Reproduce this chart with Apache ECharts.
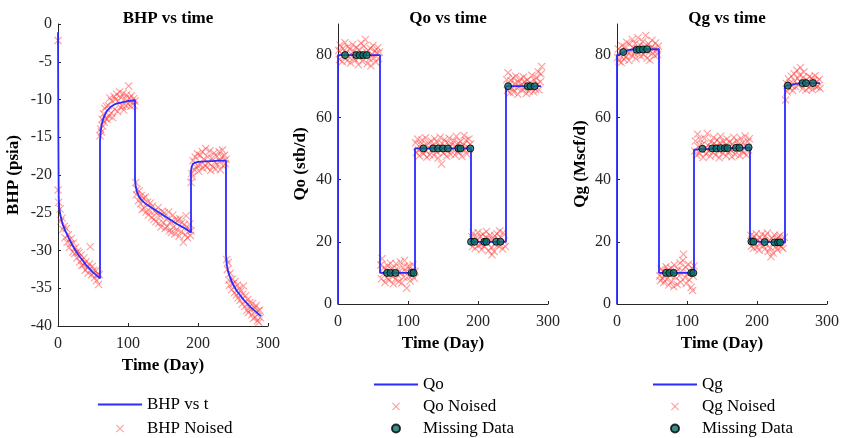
<!DOCTYPE html>
<html>
<head>
<meta charset="utf-8">
<script src="https://cdn.jsdelivr.net/npm/echarts@6/dist/echarts.min.js"></script>
<style>
  html, body { margin: 0; padding: 0; background: #fff; }
  #main { width: 842px; height: 438px; }
</style>
</head>
<body>
<div id="main"></div>
<script>
let myChart = echarts.init(document.getElementById('main'));

// BHP model curve
let bhpT = [0, 0.5, 1, 2, 4, 7, 10, 15, 20, 25, 30, 35, 40, 45, 50, 55, 60,
    60, 61, 62, 64, 67, 70, 75, 80, 85, 90, 95, 100, 105, 110,
    110, 111, 113, 116, 120, 125, 130, 140, 150, 160, 170, 180, 190,
    190, 191, 193, 196, 200, 210, 220, 230, 240,
    240, 241, 243, 246, 250, 255, 260, 265, 270, 275, 280, 285, 290];
let bhpV = [-1.1, -15, -23, -24.5, -25.6, -26.6, -27.3, -28.3, -29.2, -30.0, -30.7, -31.3, -31.9, -32.4, -32.9, -33.3, -33.7,
    -15.5, -14.2, -13.5, -12.7, -12.0, -11.5, -11.0, -10.7, -10.5, -10.4, -10.3, -10.2, -10.15, -10.1,
    -20.5, -21.5, -22.3, -22.9, -23.4, -23.8, -24.1, -24.7, -25.3, -25.9, -26.5, -27.0, -27.6,
    -19.5, -18.9, -18.5, -18.35, -18.25, -18.2, -18.15, -18.1, -18.1,
    -30.5, -31.8, -32.8, -33.6, -34.5, -35.3, -35.9, -36.5, -37.0, -37.5, -37.9, -38.3, -38.7];

// BHP noised samples [t, value]
let bhpNoised = [
    [0, -2.2], [0, -22], [1, -23.6], [3, -24.5], [4, -26.1], [6, -25.7], [7, -27.2], [9, -26.8], [10, -28.3], [12, -27.1],
    [13, -28.9], [15, -27.9], [16, -29.6], [18, -29.1], [19, -28.4], [21, -30.2], [22, -29.0], [24, -30.4], [25, -29.6], [27, -31.0],
    [28, -30.1], [30, -30.3], [31, -31.5], [33, -30.6], [34, -32.0], [36, -31.9], [37, -31.0], [39, -32.6], [40, -31.5], [42, -32.3],
    [43, -33.0], [45, -31.8], [46, -29.5], [48, -33.2], [49, -32.1], [51, -32.6], [52, -33.6], [54, -32.7], [55, -34.0], [57, -33.1],
    [58, -34.5], [59, -33.2],
    [60, -14.8], [61, -13.9], [62, -14.3], [63, -12.6], [64, -13.5], [65, -11.9], [66, -13.0], [67, -11.2], [68, -12.5], [69, -10.9],
    [70, -12.6], [72, -10.8], [73, -12.2], [74, -9.8], [76, -11.8], [77, -10.2], [78, -12.4], [80, -9.6], [81, -11.3], [82, -10.0],
    [84, -9.3], [85, -11.6], [86, -10.2], [88, -9.0], [89, -11.0], [90, -9.7], [92, -10.9], [93, -9.2], [94, -11.4], [96, -9.9],
    [97, -10.8], [98, -9.4], [100, -10.6], [101, -8.2], [102, -9.8], [104, -10.9], [105, -9.5], [106, -10.4], [108, -9.9], [109, -10.8],
    [110, -10.2],
    [111, -21.0], [112, -22.6], [113, -21.9], [115, -23.4], [116, -22.1], [118, -23.8], [119, -22.7], [120, -24.6], [122, -23.1], [123, -24.4],
    [125, -22.9], [126, -24.9], [128, -23.6], [129, -25.3], [131, -24.8], [132, -23.7], [134, -25.6], [135, -24.1], [137, -25.9], [138, -24.8],
    [140, -26.2], [141, -25.1], [143, -24.3], [144, -26.4], [146, -25.4], [147, -26.9], [149, -24.8], [150, -26.3], [152, -25.0], [153, -27.1],
    [155, -25.9], [156, -26.8], [158, -24.9], [159, -27.4], [161, -26.2], [162, -27.6], [164, -25.3], [165, -26.9], [167, -27.8], [168, -25.9],
    [170, -27.2], [171, -26.0], [173, -28.1], [174, -25.8], [176, -27.5], [177, -26.3], [179, -28.9], [180, -26.6], [182, -27.9], [183, -25.4],
    [185, -28.3], [186, -27.0], [188, -26.5], [189, -28.0], [190, -27.4],
    [190, -21.0], [191, -19.8], [192, -20.2], [193, -18.1], [195, -19.3], [196, -17.6], [197, -18.9], [199, -17.2], [200, -18.8], [201, -19.5],
    [203, -17.4], [204, -18.6], [206, -16.9], [207, -19.1], [208, -17.9], [210, -18.7], [211, -16.5], [213, -19.0], [214, -17.6], [215, -18.4],
    [217, -16.8], [218, -19.4], [220, -17.8], [221, -18.9], [223, -17.1], [224, -18.3], [225, -19.2], [227, -17.5], [228, -18.6], [230, -16.9],
    [231, -18.1], [232, -19.3], [234, -17.6], [235, -16.7], [236, -18.8], [238, -17.4], [239, -18.5], [240, -17.9],
    [241, -31.2], [242, -32.5], [243, -31.6], [244, -33.9], [245, -34.6], [246, -33.0], [248, -35.2], [249, -33.8], [250, -34.4], [252, -35.6],
    [253, -34.1], [255, -35.9], [256, -34.6], [257, -36.3], [259, -35.0], [260, -36.6], [261, -35.4], [263, -37.1], [264, -35.8], [265, -34.7],
    [267, -37.4], [268, -36.0], [270, -37.9], [271, -36.5], [272, -38.2], [274, -36.9], [275, -37.8], [277, -38.5], [278, -37.0], [279, -39.0],
    [281, -37.6], [282, -38.8], [283, -37.3], [285, -39.3], [286, -38.0], [287, -39.5], [288, -37.9], [289, -38.9]
];

// Qo model
let qoT = [0, 0, 60, 60, 110, 110, 190, 190, 240, 240, 290];
let qoV = [0, 80, 80, 10, 10, 50, 50, 20, 20, 70, 70];

let qoNoised = [
    [1, 81.5], [2, 78.6], [3, 83.2], [5, 80.4], [6, 77.9], [7, 82.1], [9, 79.3], [10, 84.0], [11, 80.8], [13, 78.2],
    [14, 82.7], [15, 79.6], [17, 81.9], [18, 77.5], [19, 80.3], [21, 83.4], [22, 79.0], [23, 81.2], [25, 78.4], [26, 82.5],
    [27, 80.1], [29, 76.9], [30, 81.7], [31, 79.4], [33, 83.8], [34, 80.6], [35, 78.0], [37, 82.9], [38, 79.8], [39, 85.0],
    [41, 80.9], [42, 77.3], [43, 81.5], [45, 78.8], [46, 82.2], [47, 76.6], [49, 80.2], [50, 83.1], [51, 79.1], [53, 81.4],
    [54, 77.8], [55, 80.7], [57, 82.4], [58, 78.9], [59, 81.0],
    [61, 12.5], [62, 8.1], [63, 14.6], [65, 9.7], [66, 11.8], [67, 6.9], [69, 10.9], [70, 8.4], [71, 12.3], [73, 7.6],
    [74, 10.2], [75, 13.1], [77, 9.1], [78, 11.5], [79, 6.5], [81, 10.6], [82, 8.0], [83, 12.9], [85, 9.4], [86, 11.0],
    [87, 7.2], [89, 13.5], [90, 9.9], [91, 6.8], [93, 11.7], [94, 8.6], [95, 14.0], [97, 10.3], [98, 5.1], [99, 11.9],
    [101, 8.9], [102, 12.1], [103, 7.4], [105, 10.8], [106, 9.2], [107, 12.6], [109, 8.3], [110, 10.5],
    [111, 51.8], [112, 48.7], [114, 53.0], [115, 49.5], [116, 47.6], [118, 51.2], [119, 49.9], [120, 52.7], [122, 48.3], [123, 50.9],
    [125, 53.4], [126, 49.1], [127, 47.2], [129, 51.6], [130, 50.2], [131, 48.0], [133, 52.4], [134, 49.6], [135, 51.0], [137, 47.8],
    [138, 53.1], [139, 50.4], [141, 48.9], [142, 52.0], [143, 46.9], [145, 50.7], [146, 53.6], [147, 49.3], [148, 45.0], [149, 51.5],
    [151, 48.5], [152, 52.8], [153, 50.0], [155, 47.5], [156, 51.9], [157, 49.2], [159, 53.3], [160, 50.6], [161, 48.1], [163, 51.3],
    [164, 49.7], [165, 52.5], [167, 47.9], [168, 50.8], [169, 53.9], [171, 49.0], [172, 51.7], [173, 48.6], [175, 52.2], [176, 50.3],
    [177, 47.4], [179, 51.1], [180, 54.2], [181, 49.4], [183, 52.6], [184, 48.2], [185, 50.5], [187, 53.0], [188, 49.8], [189, 51.4],
    [191, 21.6], [192, 18.4], [193, 22.8], [195, 19.5], [196, 17.9], [197, 21.2], [199, 20.4], [200, 23.0], [201, 18.9], [203, 21.8],
    [204, 19.1], [205, 17.5], [207, 22.4], [208, 20.0], [209, 18.6], [211, 21.4], [212, 23.3], [213, 19.6], [215, 17.1], [216, 20.9],
    [217, 22.1], [219, 18.2], [220, 15.8], [221, 20.6], [223, 16.9], [224, 21.9], [225, 19.3], [227, 22.6], [228, 18.8], [229, 20.8],
    [231, 23.5], [232, 19.0], [233, 21.3], [235, 17.7], [236, 22.9], [237, 20.2], [239, 18.5],
    [241, 72.1], [242, 68.6], [243, 74.3], [245, 70.5], [246, 67.9], [247, 71.8], [249, 69.2], [250, 72.7], [251, 68.1], [253, 70.9],
    [254, 73.2], [255, 69.6], [257, 67.4], [258, 71.3], [259, 70.0], [261, 72.4], [262, 68.8], [263, 70.6], [265, 73.0], [266, 69.1],
    [267, 71.5], [269, 67.7], [270, 70.2], [271, 72.0], [273, 68.4], [274, 71.1], [275, 69.5], [277, 73.5], [278, 70.4], [279, 68.2],
    [281, 71.9], [282, 69.0], [283, 72.8], [285, 70.7], [286, 74.6], [287, 68.9], [289, 71.4], [290, 73.9], [291, 76.3]
];

let qoMissing = [
    [10, 80], [26, 80], [31, 80], [36, 80], [41, 80],
    [70, 10], [75, 10], [82, 10], [105, 10], [108, 10],
    [122, 50], [136, 50], [143, 50], [150, 50], [157, 50], [172, 50], [175, 50], [189, 50],
    [190, 20], [195, 20], [209, 20], [212, 20], [226, 20], [232, 20],
    [243, 70], [271, 70], [275, 70], [281, 70]
];

// Qg model
let qgT = [0, 0, 5, 10, 15, 20, 60, 60, 110, 110, 150, 190, 190, 240, 240, 250, 262, 290];
let qgV = [0, 80, 80.4, 81, 81.5, 81.8, 81.9, 10, 10, 49.6, 50, 50.3, 20.1, 19.8, 70, 70.5, 71, 71];

let qgNoised = [
    [1, 79.2], [2, 82.0], [3, 78.1], [5, 81.3], [6, 77.6], [7, 83.0], [9, 80.0], [10, 78.7], [11, 82.6], [13, 79.5],
    [14, 84.1], [15, 80.9], [17, 78.3], [18, 83.5], [19, 81.2], [21, 79.9], [22, 85.0], [23, 82.3], [25, 80.4], [26, 83.7],
    [27, 78.9], [29, 82.0], [30, 85.6], [31, 80.8], [33, 83.2], [34, 79.6], [35, 81.9], [37, 84.4], [38, 80.1], [39, 82.8],
    [41, 86.3], [42, 81.4], [43, 79.0], [45, 83.6], [46, 81.0], [47, 78.4], [49, 82.5], [50, 84.8], [51, 80.6], [53, 82.1],
    [54, 79.8], [55, 83.9], [57, 81.6], [58, 80.2], [59, 82.9],
    [61, 9.0], [62, 7.5], [63, 11.2], [65, 8.3], [66, 10.5], [67, 6.9], [69, 9.6], [70, 12.0], [71, 8.0], [73, 10.9],
    [74, 6.1], [75, 9.3], [77, 11.6], [78, 7.2], [79, 10.1], [81, 5.6], [82, 12.5], [83, 8.8], [85, 10.4], [86, 6.3],
    [87, 11.1], [89, 9.0], [90, 13.2], [91, 7.0], [93, 10.7], [94, 14.0], [95, 16.0], [97, 8.5], [98, 11.9], [99, 6.6],
    [101, 9.8], [102, 12.8], [103, 7.8], [105, 10.3], [106, 5.4], [107, 11.4], [108, 4.3], [109, 8.9], [110, 12.2],
    [111, 49.2], [112, 52.4], [114, 47.8], [115, 54.6], [116, 50.6], [118, 48.5], [119, 52.9], [120, 49.7], [122, 51.3], [123, 47.1],
    [125, 53.2], [126, 50.1], [127, 48.3], [129, 54.8], [130, 51.0], [131, 49.0], [133, 47.5], [134, 52.1], [135, 50.4], [137, 48.8],
    [138, 53.5], [139, 51.6], [141, 47.9], [142, 50.9], [143, 52.7], [145, 49.3], [146, 47.0], [147, 51.8], [148, 53.9], [149, 50.2],
    [151, 48.4], [152, 52.3], [153, 49.6], [155, 51.1], [156, 47.6], [157, 53.0], [159, 50.7], [160, 48.9], [161, 52.0], [163, 49.4],
    [164, 47.3], [165, 51.5], [167, 53.6], [168, 50.0], [169, 48.1], [171, 52.5], [172, 49.8], [173, 51.2], [175, 47.7], [176, 50.8],
    [177, 53.3], [179, 49.1], [180, 51.9], [181, 48.6], [183, 54.0], [184, 50.5], [185, 47.9], [187, 52.2], [188, 49.5], [189, 53.1],
    [191, 22.1], [192, 18.6], [193, 20.8], [195, 17.9], [196, 21.7], [197, 19.4], [199, 22.6], [200, 18.2], [201, 20.5], [203, 17.3],
    [204, 21.3], [205, 19.8], [207, 22.4], [208, 18.9], [209, 20.1], [211, 17.6], [212, 21.9], [213, 19.2], [215, 22.8], [216, 16.9],
    [217, 20.3], [219, 18.1], [220, 15.2], [221, 21.1], [223, 16.4], [224, 19.7], [225, 22.2], [227, 18.4], [228, 20.9], [229, 17.4],
    [231, 21.6], [232, 19.0], [233, 22.0], [235, 18.3], [236, 20.6], [237, 17.8], [239, 21.4],
    [241, 65.6], [242, 70.9], [243, 68.2], [245, 72.3], [246, 69.4], [247, 71.0], [249, 73.2], [250, 70.1], [251, 68.6], [253, 74.0],
    [254, 71.7], [255, 69.9], [257, 75.1], [258, 72.5], [259, 70.3], [261, 73.6], [262, 76.0], [263, 71.2], [265, 69.2], [266, 72.9],
    [267, 74.6], [269, 70.6], [270, 68.8], [271, 72.1], [273, 71.4], [274, 69.5], [275, 73.1], [277, 70.2], [278, 72.6], [279, 68.9],
    [281, 71.8], [282, 70.4], [283, 73.4], [285, 69.7], [286, 71.5], [287, 70.0], [289, 72.2], [290, 69.3]
];

let qgMissing = [
    [9, 81], [28, 81.7], [32, 81.8], [37, 81.8], [43, 81.9],
    [70, 10], [75, 10], [81, 10], [106, 10], [109, 10],
    [122, 49.9], [136, 50], [142, 50], [148, 50.1], [154, 50.1], [158, 50.1], [170, 50.2], [175, 50.2], [188, 50.3],
    [192, 20.1], [195, 20.0], [211, 19.9], [225, 19.8], [230, 19.8], [233, 19.8],
    [244, 70.2], [265, 71], [270, 71], [280, 71]
];

let qTicks = [0, 20, 40, 60, 80];

const FONT = 'Liberation Serif';
const AXIS_COLOR = '#262626';
const BLUE = '#2b2bff';
const X_SYMBOL = 'path://M0,1L1,0L5,4L9,0L10,1L6,5L10,9L9,10L5,6L1,10L0,9L4,5Z';

function pairs(t, v) {
    return t.map((x, i) => [x, v[i]]);
}

function xAxisCfg(gridIndex) {
    return {
        type: 'value', gridIndex: gridIndex, min: 0, max: 300, interval: 100,
        name: 'Time (Day)', nameLocation: 'middle', nameGap: 31,
        nameTextStyle: { fontFamily: FONT, fontSize: 17, fontWeight: 'bold', color: '#000' },
        axisLine: { show: true, onZero: false, lineStyle: { color: AXIS_COLOR, width: 1 } },
        axisTick: { show: true, inside: true, length: 3, lineStyle: { color: AXIS_COLOR } },
        axisLabel: { fontFamily: FONT, fontSize: 16, color: AXIS_COLOR, margin: 10 },
        splitLine: { show: false }
    };
}

function yAxisCfg(gridIndex, name, gap, extra) {
    return Object.assign({
        type: 'value', gridIndex: gridIndex,
        name: name, nameLocation: 'middle', nameGap: gap,
        nameTextStyle: { fontFamily: FONT, fontSize: 17, fontWeight: 'bold', color: '#000' },
        axisLine: { show: true, onZero: false, lineStyle: { color: AXIS_COLOR, width: 1 } },
        axisTick: { show: true, inside: true, length: 3, lineStyle: { color: AXIS_COLOR } },
        axisLabel: { fontFamily: FONT, fontSize: 16, color: AXIS_COLOR, margin: 6 },
        splitLine: { show: false }
    }, extra);
}

function lineSeries(name, idx, data) {
    return {
        name: name, type: 'line', xAxisIndex: idx, yAxisIndex: idx,
        data: data, symbol: 'none', animation: false, z: 3,
        lineStyle: { color: BLUE, width: 1.8 },
        itemStyle: { color: BLUE }
    };
}

function noiseSeries(name, idx, data) {
    return {
        name: name, type: 'scatter', xAxisIndex: idx, yAxisIndex: idx,
        data: data, symbol: X_SYMBOL, symbolSize: 8, animation: false, z: 2,
        itemStyle: { color: 'rgba(255,50,50,0.58)' }
    };
}

function missingSeries(idx, data) {
    return {
        name: 'Missing Data', type: 'scatter', xAxisIndex: idx, yAxisIndex: idx,
        data: data, symbol: 'circle', symbolSize: 7, animation: false, z: 4,
        itemStyle: { color: '#0a716c', borderColor: '#000', borderWidth: 1 }
    };
}

function titleCfg(text, x) {
    return {
        text: text, left: x, top: 5, textAlign: 'center',
        textStyle: { fontFamily: FONT, fontSize: 17, fontWeight: 'bold', color: '#000' }
    };
}

function legendCfg(names, x, y, gap) {
    // first entry is the model line: hide the symbol drawn on its icon
    let data = names.map((n, i) => i === 0 ? { name: n, itemStyle: { opacity: 0 } } : n);
    return {
        data: data, orient: 'vertical', left: x, top: y, padding: 0,
        itemWidth: 44, itemHeight: 8, itemGap: gap,
        textStyle: { fontFamily: FONT, fontSize: 17, color: '#000' },
        selectedMode: false
    };
}

let option = {
    backgroundColor: '#fff',
    title: [
        titleCfg('BHP vs time', 163),
        titleCfg('Qo vs time', 443),
        titleCfg('Qg vs time', 722)
    ],
    legend: [
        legendCfg(['BHP vs t', 'BHP Noised'], 97, 396, 7),
        legendCfg(['Qo', 'Qo Noised', 'Missing Data'], 373, 376, 5),
        legendCfg(['Qg', 'Qg Noised', 'Missing Data'], 652, 376, 5)
    ],
    grid: [
        { left: 58, top: 24, width: 210, height: 302 },
        { left: 338, top: 24, width: 210, height: 280 },
        { left: 617, top: 24, width: 211, height: 280 }
    ],
    xAxis: [xAxisCfg(0), xAxisCfg(1), xAxisCfg(2)],
    yAxis: [
        yAxisCfg(0, 'BHP (psia)', 36, { min: -40, max: 0, interval: 5 }),
        yAxisCfg(1, 'Qo (stb/d)', 29, {
            min: 0, max: 90,
            axisLabel: { fontFamily: FONT, fontSize: 16, color: AXIS_COLOR, margin: 6, customValues: qTicks },
            axisTick: { show: true, inside: true, length: 3, lineStyle: { color: AXIS_COLOR }, customValues: qTicks }
        }),
        yAxisCfg(2, 'Qg (Mscf/d)', 28, {
            min: 0, max: 90,
            axisLabel: { fontFamily: FONT, fontSize: 16, color: AXIS_COLOR, margin: 6, customValues: qTicks },
            axisTick: { show: true, inside: true, length: 3, lineStyle: { color: AXIS_COLOR }, customValues: qTicks }
        })
    ],
    series: [
        noiseSeries('BHP Noised', 0, bhpNoised),
        lineSeries('BHP vs t', 0, pairs(bhpT, bhpV)),
        noiseSeries('Qo Noised', 1, qoNoised),
        lineSeries('Qo', 1, pairs(qoT, qoV)),
        missingSeries(1, qoMissing),
        noiseSeries('Qg Noised', 2, qgNoised),
        lineSeries('Qg', 2, pairs(qgT, qgV)),
        missingSeries(2, qgMissing)
    ]
};

myChart.setOption(option);
</script>
</body>
</html>
